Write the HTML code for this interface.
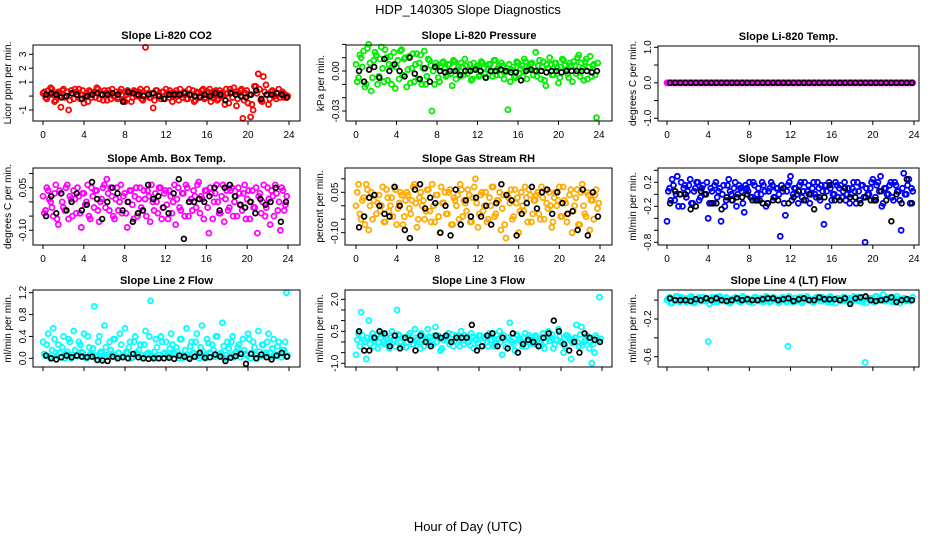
<!DOCTYPE html>
<html><head><meta charset="utf-8"><style>
body{margin:0;background:#fff}
svg{display:block;font-family:"Liberation Sans",sans-serif}
</style></head><body>
<svg id="chart" width="936" height="540">
<text x="468" y="14" text-anchor="middle" font-size="13">HDP_140305  Slope Diagnostics</text>
<text x="468" y="531" text-anchor="middle" font-size="13">Hour of Day (UTC)</text>
</svg>
<script>
const xTicks=[0,4,8,12,16,20,24];
const co2Col=[0.2,-0.1,0.4,0.6,0.1,-0.3,0.3,-0.8,0.5,0.0,-1.0,0.4,-0.2,0.3,0.5,0.1,-0.5,0.2,0.4,-0.1,0.3,0.6,-0.2,0.1,0.4,-0.3,0.2,0.5,0.0,-0.2,0.3,0.1,-0.4,0.4,0.2,-0.1,0.3,0.0,0.5,-0.3,3.5,0.2,-0.1,-0.85,0.4,0.1,-0.2,0.3,0.5,-0.1,0.2,0.0,0.4,-0.3,0.1,0.3,-0.2,0.5,0.1,-0.4,0.3,0.0,0.4,-0.2,0.2,0.5,-0.1,0.3,-0.3,0.4,0.1,-0.6,0.2,0.5,-0.1,0.3,-0.2,0.4,-1.6,0.2,-0.5,-1.5,-1.0,0.7,1.6,-0.3,1.4,0.8,-0.6,0.3,0.1,-0.2,0.5,0.2,-0.1,-0.1];
const co2Col2=[0.3,-0.2,0.1,0.5,-0.4,0.2,0.0,0.4,-0.1,0.3,-0.3,0.2,0.5,0.1,-0.2,0.4,0.0,-0.4,0.3,0.2,-0.1,0.5,0.1,-0.3,0.2,0.4,-0.2,0.0,0.3,-0.1,0.5,-0.3,0.1,0.2,-0.4,0.4,0.0,0.3,-0.2,0.1,0.5,-0.1,0.2,-0.3,0.4,0.0,0.3,-0.2,0.1,0.4,-0.4,0.2,0.0,0.5,-0.1,0.3,-0.2,0.1,0.4,-0.3,0.2,0.0,0.5,-0.1,0.3,-0.4,0.1,0.4,-0.2,0.2,0.0,0.5,-0.5,0.3,0.6,-0.7,0.2,0.5,-0.3,0.4,0.1,-0.6,0.7,0.2,0.5,-0.4,0.3,0.1,-0.2,0.4,0.0,0.2,-0.1,0.3,0.1,0.0];
const co2Blk=[0.1,0.2,0.1,-0.1,0.0,0.2,0.1,-0.2,0.0,0.1,0.2,0.1,0.1,0.2,0.1,-0.4,0.3,0.2,0.1,0.0,0.1,0.2,0.0,-0.2,0.1,0.1,0.1,0.2,0.1,0.0,-0.1,0.1,0.0,0.2,0.1,-0.3,0.2,0.1,0.0,-0.1,0.1,0.4,-0.2,0.1,0.1,0.2,0.1,-0.1];
const presCol=[0.005,-0.005,0.01,0.015,-0.01,0.02,-0.015,0.008,0.012,-0.004,0.018,-0.008,0.01,0.005,-0.01,0.014,0.003,-0.006,0.016,0.009,-0.012,0.011,0.002,-0.008,0.013,0.006,-0.01,0.015,-0.004,0.008,-0.03,-0.01,0.004,-0.008,0.006,0.002,-0.003,0.005,-0.011,0.007,0.001,-0.004,0.003,0.009,-0.002,0.005,-0.006,0.002,0.004,-0.003,0.006,-0.002,0.001,0.005,-0.004,0.008,0.002,-0.003,0.004,-0.001,-0.029,-0.008,0.003,-0.005,0.006,0.002,-0.004,0.007,0.001,0.005,-0.003,0.014,0.004,-0.006,0.007,-0.011,0.002,0.005,-0.003,0.006,-0.009,0.003,0.008,0.001,-0.005,0.004,0.007,-0.002,0.012,0.006,-0.007,0.009,0.003,-0.004,0.005,-0.035];
const presCol2=[-0.008,0.012,0.003,-0.012,0.017,0.006,-0.005,0.014,-0.01,0.009,0.002,0.016,-0.007,0.011,0.004,-0.013,0.008,0.015,-0.003,0.01,0.001,-0.009,0.013,0.005,-0.006,0.012,0.002,-0.01,0.009,0.004,0.0,0.006,-0.005,0.003,0.007,-0.004,0.005,-0.002,0.008,-0.006,0.003,0.006,-0.003,0.004,0.001,-0.007,0.006,0.003,-0.004,0.007,0.002,-0.005,0.005,0.0,0.008,-0.003,0.004,0.006,-0.006,0.002,0.005,0.001,-0.004,0.007,-0.002,0.004,0.009,-0.006,0.003,0.006,0.0,-0.004,0.008,0.003,-0.007,0.005,0.01,-0.003,0.006,0.002,-0.005,0.009,0.004,-0.002,0.006,-0.008,0.004,0.01,-0.004,0.002,0.007,-0.006,0.011,0.004,-0.003,0.006];
const presBlk=[0.0,-0.008,0.001,0.003,-0.005,0.009,0.0,0.005,0.0,-0.004,0.01,-0.002,-0.006,0.002,-0.008,0.003,0.0,-0.001,0.0,0.0,-0.003,0.0,0.0,0.001,0.0,-0.005,0.0,0.0,0.001,0.0,-0.001,-0.001,-0.007,0.0,0.001,0.0,0.0,-0.001,0.0,0.0,-0.001,0.0,0.0,0.0,0.0,0.0,-0.001,0.0];
const tempCol=[0,0,0,0,0,0,0,0,0,0,0,0,0,0,0,0,0,0,0,0,0,0,0,0,0,0,0,0,0,0,0,0,0,0,0,0,0,0,0,0,0,0,0,0,0,0,0,0,0,0,0,0,0,0,0,0,0,0,0,0,0,0,0,0,0,0,0,0,0,0,0,0,0,0,0,0,0,0,0,0,0,0,0,0,0,0,0,0,0,0,0,0,0,0,0,0];
const tempCol2=[0,0,0,0,0,0,0,0,0,0,0,0,0,0,0,0,0,0,0,0,0,0,0,0,0,0,0,0,0,0,0,0,0,0,0,0,0,0,0,0,0,0,0,0,0,0,0,0,0,0,0,0,0,0,0,0,0,0,0,0,0,0,0,0,0,0,0,0,0,0,0,0,0,0,0,0,0,0,0,0,0,0,0,0,0,0,0,0,0,0,0,0,0,0,0,0];
const tempBlk=[0,0,0,0,0,0,0,0,0,0,0,0,0,0,0,0,0,0,0,0,0,0,0,0,0,0,0,0,0,0,0,0,0,0,0,0,0,0,0,0,0,0,0,0,0,0,0,0];
const boxCol=[0.02,-0.03,0.04,0.0,-0.05,0.06,-0.08,0.03,-0.02,0.05,-0.06,0.01,0.04,-0.04,0.02,-0.09,0.03,0.0,-0.05,0.05,-0.02,0.04,-0.07,0.01,0.06,0.08,-0.03,0.02,-0.06,0.05,0.0,-0.04,0.03,-0.09,0.04,-0.01,0.02,-0.05,0.05,-0.03,0.01,0.04,-0.07,0.0,0.03,-0.04,0.05,-0.02,0.04,-0.06,0.02,0.0,-0.08,0.05,-0.03,0.03,0.06,-0.05,0.01,0.04,-0.02,0.07,0.02,-0.06,0.04,-0.11,0.03,0.0,0.06,-0.04,0.02,-0.07,0.04,-0.02,0.05,0.0,-0.05,0.03,-0.03,0.06,0.01,-0.06,0.04,-0.02,-0.11,0.03,0.0,-0.05,0.05,-0.08,0.02,0.06,-0.03,-0.10,0.04,-0.01];
const boxCol2=[-0.04,0.05,0.01,-0.02,0.03,-0.06,0.04,0.0,-0.03,0.06,0.02,-0.05,0.01,0.05,-0.04,0.03,-0.01,0.06,-0.06,0.02,0.04,-0.03,0.0,0.05,-0.02,0.03,0.05,-0.05,0.01,-0.03,0.06,0.02,-0.04,0.0,0.04,-0.06,0.05,0.01,-0.02,0.04,-0.05,0.02,0.06,-0.03,0.0,0.05,-0.06,0.03,-0.01,0.04,-0.04,0.06,0.01,-0.02,0.03,-0.05,0.05,0.0,-0.03,0.02,0.06,-0.04,0.01,0.04,-0.02,0.05,-0.06,0.03,0.0,-0.04,0.06,0.01,-0.03,0.04,-0.05,0.02,0.05,-0.01,0.03,-0.06,0.04,0.0,-0.02,0.05,0.02,-0.04,0.06,-0.02,0.01,0.04,-0.05,0.03,0.0,0.05,-0.03,0.02];
const boxBlk=[-0.05,0.02,-0.04,0.03,-0.03,0.0,0.03,-0.03,-0.01,0.07,0.01,-0.06,0.0,0.05,0.03,-0.03,0.0,-0.07,-0.04,-0.03,0.06,0.01,0.02,-0.02,-0.04,0.03,0.08,-0.13,0.0,0.0,0.01,0.0,0.02,0.05,-0.03,0.05,0.06,0.02,-0.01,-0.02,0.0,-0.04,0.01,-0.01,0.0,0.05,-0.07,0.0];
const rhCol=[0.0,0.08,-0.05,0.03,0.08,-0.09,0.05,0.02,-0.03,0.04,0.0,-0.06,0.06,-0.02,0.03,0.07,-0.07,0.01,0.04,-0.04,0.05,-0.01,0.02,0.08,-0.08,0.03,0.0,-0.05,0.06,-0.02,0.08,-0.06,0.04,-0.1,0.01,0.05,-0.03,0.06,-0.07,0.02,0.04,0.08,-0.04,0.01,0.06,-0.06,0.03,0.1,-0.08,0.04,-0.02,0.05,-0.05,0.0,0.07,-0.03,0.02,-0.09,0.04,-0.12,0.03,0.06,-0.04,0.01,-0.1,0.05,-0.02,0.03,0.06,-0.06,0.02,0.04,-0.03,0.07,-0.05,0.01,0.05,-0.08,0.03,0.0,0.07,-0.04,0.02,-0.06,0.04,-0.1,0.0,0.06,-0.07,0.08,-0.03,0.05,-0.09,0.02,0.04,-0.01];
const rhCol2=[0.05,-0.03,0.02,-0.07,0.06,0.0,-0.05,0.04,0.01,-0.02,0.07,-0.06,0.03,0.0,-0.04,0.06,-0.01,0.05,-0.07,0.02,0.04,-0.03,0.07,0.01,-0.05,0.05,0.02,-0.02,0.06,-0.06,0.0,0.04,-0.04,0.07,0.01,-0.03,0.05,-0.07,0.03,0.0,-0.05,0.06,0.02,-0.02,0.04,-0.06,0.07,0.01,-0.03,0.05,0.0,-0.06,0.03,0.07,-0.04,0.02,0.05,-0.01,-0.07,0.04,0.01,-0.05,0.06,0.03,-0.02,0.0,0.07,-0.06,0.04,-0.03,0.02,0.05,-0.05,0.03,0.06,-0.01,0.0,-0.06,0.05,0.02,-0.04,0.07,0.01,-0.03,0.06,-0.02,0.03,-0.07,0.05,0.0,-0.04,0.04,0.02,-0.05,0.06,0.01];
const rhBlk=[-0.08,-0.04,0.03,0.04,0.0,-0.03,-0.04,0.07,0.0,-0.09,-0.12,0.06,0.08,-0.01,0.03,0.01,-0.1,0.0,-0.11,0.06,-0.07,0.02,-0.04,0.03,-0.04,0.0,-0.07,0.01,0.08,0.04,0.02,-0.11,-0.03,0.01,0.07,-0.01,0.05,0.06,-0.03,0.05,0.01,-0.03,-0.02,-0.09,0.06,-0.11,0.05,-0.04];
const sfCol=[-0.45,0.1,0.25,-0.1,0.3,0.0,-0.2,0.15,0.05,0.25,-0.15,0.1,0.2,-0.05,0.15,0.0,-0.4,0.1,-0.15,0.2,0.05,-0.45,0.15,-0.1,0.25,0.0,0.1,-0.2,0.15,0.05,-0.3,0.1,0.2,-0.05,0.15,0.0,-0.1,0.2,0.05,-0.15,0.1,0.15,-0.05,0.1,-0.7,0.05,-0.35,0.15,0.3,0.0,0.1,-0.15,0.2,0.05,-0.1,0.15,0.0,0.2,-0.05,0.1,0.15,-0.5,0.05,0.2,-0.1,0.0,0.15,0.1,-0.05,0.2,0.0,-0.15,0.1,0.05,0.2,-0.1,0.15,-0.8,0.0,0.1,0.25,-0.05,0.2,0.3,-0.15,0.1,0.0,0.2,-0.1,0.15,0.05,-0.6,0.35,0.0,0.25,0.1];
const sfCol2=[0.05,-0.1,0.15,0.0,-0.2,0.2,0.1,-0.05,0.15,-0.15,0.05,0.2,-0.1,0.1,0.0,0.2,-0.15,0.05,0.15,-0.05,0.1,0.0,-0.2,0.15,0.05,-0.1,0.2,0.0,0.1,-0.15,0.15,0.05,-0.05,0.2,-0.1,0.1,0.0,0.15,-0.2,0.05,0.2,-0.05,0.1,0.0,0.15,-0.15,0.05,0.2,-0.1,0.1,0.0,0.15,-0.05,0.2,0.05,-0.15,0.1,0.0,0.2,-0.1,0.05,0.15,-0.2,0.1,0.0,0.2,-0.05,0.15,0.05,-0.1,0.1,0.0,0.2,-0.15,0.05,0.15,-0.05,0.1,0.0,0.2,-0.1,0.15,0.05,-0.2,0.1,0.0,0.15,-0.05,0.2,0.05,-0.1,0.1,0.0,0.15,-0.15,0.05];
const sfBlk=[-0.15,0.05,0.0,0.0,-0.25,-0.2,0.05,0.0,-0.15,-0.15,-0.25,-0.05,-0.1,-0.05,-0.05,0.0,-0.1,-0.1,-0.15,-0.15,-0.1,-0.1,0.1,-0.15,-0.05,0.05,-0.1,0.0,-0.25,-0.05,-0.05,0.15,-0.1,-0.1,0.1,-0.05,-0.05,-0.15,-0.05,-0.1,-0.1,0.05,-0.1,-0.45,0.0,-0.15,0.25,-0.15];
const l2Col=[0.3,0.05,0.45,0.0,0.55,0.1,0.25,0.02,0.4,0.08,0.35,0.0,0.5,0.05,0.3,0.12,0.45,0.0,0.2,0.06,0.95,0.02,0.4,0.1,0.6,0.03,0.3,0.08,0.35,0.0,0.45,0.05,0.55,0.1,0.3,0.02,0.4,0.07,0.25,0.0,0.5,0.1,1.05,0.04,0.35,0.0,0.4,0.08,0.3,0.05,0.45,0.1,0.2,0.0,0.35,0.06,0.55,0.02,0.3,0.09,0.45,0.0,0.6,0.05,0.35,0.1,0.25,0.03,0.4,0.07,0.65,0.0,0.3,0.05,0.4,0.1,0.2,0.02,0.35,0.08,0.45,0.0,0.3,0.06,0.5,0.04,0.25,0.1,0.45,0.03,0.35,0.07,0.3,0.02,0.15,1.2];
const l2Col2=[0.08,0.25,0.03,0.15,0.35,0.05,0.1,0.2,0.0,0.12,0.3,0.06,0.15,0.04,0.25,0.1,0.02,0.4,0.08,0.18,0.05,0.3,0.12,0.0,0.2,0.07,0.15,0.35,0.03,0.1,0.25,0.06,0.12,0.2,0.0,0.3,0.1,0.15,0.05,0.25,0.08,0.4,0.02,0.12,0.2,0.06,0.3,0.1,0.04,0.18,0.25,0.08,0.12,0.35,0.0,0.15,0.07,0.22,0.1,0.3,0.05,0.2,0.12,0.0,0.28,0.09,0.15,0.4,0.04,0.1,0.22,0.06,0.18,0.3,0.02,0.12,0.25,0.08,0.15,0.05,0.35,0.1,0.2,0.0,0.12,0.25,0.06,0.3,0.1,0.18,0.04,0.22,0.08,0.15,0.3,0.05];
const l2Blk=[0.05,0.0,-0.02,0.02,0.05,0.02,0.05,0.03,0.02,0.03,-0.03,-0.04,-0.05,0.03,0.0,0.02,0.0,0.08,0.02,0.0,-0.01,0.0,0.0,0.0,0.01,-0.01,0.05,0.03,-0.01,0.03,0.1,0.01,0.02,0.07,0.03,-0.05,0.01,0.04,0.08,-0.1,0.08,0.0,0.07,0.02,-0.02,0.05,0.1,0.03];
const l3Col=[-0.6,0.4,1.4,0.1,-0.8,1.0,0.2,-0.2,0.3,0.0,0.4,-0.1,0.2,-0.3,0.5,0.1,1.5,0.3,-0.2,0.2,0.0,0.4,-0.1,0.6,0.1,-0.3,0.3,0.0,0.6,0.2,-0.1,0.7,0.3,-0.4,0.1,0.2,0.4,0.0,-0.2,0.3,0.1,0.5,-0.1,0.2,0.0,0.4,-0.3,0.1,0.3,-0.2,0.2,0.0,0.4,0.1,-0.2,0.3,0.5,-0.6,0.1,0.2,0.9,0.0,-0.4,0.3,0.1,-0.2,0.4,0.0,0.2,-0.1,0.3,0.1,-0.2,0.4,0.0,0.5,0.2,-0.3,0.1,0.6,0.0,-0.5,0.3,0.2,-0.8,0.1,0.8,-0.2,0.7,0.0,0.3,-0.3,-1.0,-0.5,0.2,2.1];
const l3Col2=[0.1,-0.2,0.3,0.0,0.2,-0.1,0.4,0.1,-0.3,0.2,0.0,0.3,-0.1,0.2,0.1,-0.2,0.35,0.0,0.15,-0.25,0.3,0.05,-0.1,0.2,0.0,0.4,-0.2,0.1,0.25,-0.1,0.3,0.0,0.15,-0.3,0.2,0.1,-0.1,0.35,0.05,0.2,-0.2,0.1,0.3,0.0,-0.15,0.25,0.1,-0.05,0.3,0.0,0.2,-0.2,0.1,0.4,-0.1,0.15,0.0,0.3,-0.25,0.2,0.05,-0.1,0.35,0.1,0.0,0.2,-0.2,0.3,0.1,-0.05,0.25,0.0,0.15,-0.3,0.2,0.05,0.35,-0.1,0.1,0.25,0.0,-0.2,0.3,0.1,-0.05,0.2,0.0,0.35,-0.15,0.1,0.25,0.0,-0.1,0.3,0.05,0.15];
const l3Blk=[0.5,-0.4,-0.4,0.2,0.5,0.4,-0.2,0.3,-0.3,0.2,0.1,-0.4,0.3,0.0,-0.2,0.3,0.2,0.3,0.0,0.2,0.2,0.2,0.8,-0.4,-0.2,0.3,0.4,-0.2,0.2,-0.3,0.4,-0.5,-0.1,0.1,0.0,-0.2,0.2,0.4,1.0,0.5,-0.1,-0.4,0.0,-0.5,0.4,0.2,0.1,0.0];
const l4Col=[0.0,0.03,-0.03,0.0,0.04,-0.02,0.01,0.02,-0.01,0.03,0.0,-0.02,0.02,0.0,0.03,-0.01,-0.44,0.01,-0.02,0.03,0.0,0.02,-0.01,0.03,0.0,-0.02,0.02,0.01,-0.01,0.03,0.0,0.02,-0.02,0.01,0.03,0.0,-0.01,0.02,0.0,0.03,-0.02,0.01,0.02,0.0,-0.01,0.03,0.0,-0.49,0.01,-0.02,0.02,0.0,0.03,-0.01,0.01,0.02,0.0,-0.02,0.03,0.01,-0.01,0.02,0.0,0.03,-0.02,0.01,0.02,0.0,-0.01,0.03,0.0,0.02,-0.01,0.01,0.03,0.0,-0.02,-0.66,0.01,0.02,-0.01,0.04,0.0,0.02,0.06,-0.01,0.02,0.0,0.03,-0.02,0.01,0.0,0.02,-0.01,0.01,0.0];
const l4Col2=[0.02,-0.03,0.01,0.04,-0.01,0.03,0.0,-0.02,0.02,0.04,-0.03,0.01,0.03,-0.01,0.0,0.02,-0.04,0.03,0.01,-0.02,0.04,0.0,-0.01,0.02,-0.03,0.01,0.03,0.0,-0.02,0.04,0.02,-0.01,0.01,-0.03,0.03,0.0,0.02,-0.02,0.04,0.01,-0.01,0.03,0.0,-0.03,0.02,0.01,-0.02,0.04,0.0,0.02,-0.01,0.03,-0.03,0.01,0.04,0.0,-0.02,0.02,0.01,-0.01,0.03,0.0,-0.02,0.04,0.01,-0.03,0.02,0.0,0.03,-0.01,0.01,-0.02,0.04,0.02,-0.01,0.0,0.03,-0.03,0.01,0.02,-0.02,0.04,0.0,0.01,-0.01,0.03,0.02,-0.02,0.0,0.04,-0.03,0.01,0.02,0.0,-0.01,0.03];
const l4Blk=[0.02,0.0,0.0,0.0,-0.01,0.01,0.0,0.02,0.0,0.02,0.0,-0.01,0.0,0.02,0.0,0.01,0.0,0.0,0.01,0.02,0.02,0.0,0.01,0.02,-0.01,0.01,0.02,0.0,0.0,0.03,0.01,0.01,0.01,0.0,0.02,-0.04,0.02,0.03,0.04,0.0,-0.01,0.0,0.01,0.03,-0.02,0.0,0.01,0.0];
const yTicks1=[-1,0,1,2,3], yLab1=["-1","","1","2","3"];
const yTicks2=[-0.03,-0.02,-0.01,0,0.01,0.02], yLab2=["-0.03","","","0.00","",""];
const yTicks3=[-1,-0.5,0,0.5,1], yLab3=["-1.0","","0.0","","1.0"];
const yTicks4=[-0.1,-0.05,0,0.05,0.1], yLab4=["-0.10","","","0.05",""];
const yTicks5=[-0.1,-0.05,0,0.05,0.1], yLab5=["-0.10","","","0.05",""];
const yTicks6=[-0.8,-0.6,-0.4,-0.2,0,0.2,0.4], yLab6=["-0.8","","","-0.2","","0.2",""];
const yTicks7=[0,0.4,0.8,1.2], yLab7=["0.0","0.4","0.8","1.2"];
const yTicks8=[-1,-0.5,0,0.5,1,1.5,2], yLab8=["-1.0","","","0.5","","","2.0"];
const yTicks9=[-0.6,-0.4,-0.2,0], yLab9=["-0.6","","-0.2",""];

const svg=document.getElementById('chart');
const NS='http://www.w3.org/2000/svg';
function mk(tag,attrs,parent){const e=document.createElementNS(NS,tag);for(const k in attrs)e.setAttribute(k,attrs[k]);(parent||svg).appendChild(e);return e;}

const panels=[
 {t:'Slope Li-820 CO2',yl:'Licor ppm per min.',bx:[33,300],by:[45,121],xr:[43,289],ya:[3,54.3],yb:[-1,110],col:'#ff0000',c:co2Col,c2:co2Col2,b:co2Blk,yt:yTicks1,ytl:yLab1,xl:true,name:'co2'},
 {t:'Slope Li-820 Pressure',yl:'kPa per min.',bx:[346,612],by:[45,121],xr:[356,599],ya:[0,71],yb:[-0.03,111],col:'#00ee00',c:presCol,c2:presCol2,b:presBlk,yt:yTicks2,ytl:yLab2,xl:true,name:'pressure'},
 {t:'Slope Li-820 Temp.',yl:'degrees C per min.',bx:[658,919],by:[46,121],xr:[667,914],ya:[1,47.3],yb:[-1,118.3],col:'#ff00ff',c:tempCol,c2:tempCol2,b:tempBlk,yt:yTicks3,ytl:yLab3,xl:true,name:'temp'},
 {t:'Slope Amb. Box Temp.',yl:'degrees C per min.',bx:[33,300],by:[168,245],xr:[43,288],ya:[0.05,187.7],yb:[-0.1,230.3],col:'#ff00ff',c:boxCol,c2:boxCol2,b:boxBlk,yt:yTicks4,ytl:yLab4,xl:true,name:'box-temp'},
 {t:'Slope Gas Stream RH',yl:'percent per min.',bx:[345,612],by:[168,245],xr:[356,600],ya:[0.05,192.3],yb:[-0.1,232.7],col:'#ffaa00',c:rhCol,c2:rhCol2,b:rhBlk,yt:yTicks5,ytl:yLab5,xl:true,name:'rh'},
 {t:'Slope Sample Flow',yl:'ml/min per min.',bx:[658,919],by:[168,245],xr:[667,914],ya:[0.2,182.3],yb:[-0.8,242.3],col:'#0000ff',c:sfCol,c2:sfCol2,b:sfBlk,yt:yTicks6,ytl:yLab6,xl:true,name:'sample-flow'},
 {t:'Slope Line 2 Flow',yl:'ml/min per min.',bx:[33,300],by:[290,367],xr:[43,289],ya:[1.2,292.7],yb:[0,358.3],col:'#00ffff',c:l2Col,c2:l2Col2,b:l2Blk,yt:yTicks7,ytl:yLab7,xl:false,name:'line2-flow'},
 {t:'Slope Line 3 Flow',yl:'ml/min per min.',bx:[345,612],by:[290,367],xr:[356,602],ya:[2,299.3],yb:[-1,363.3],col:'#00ffff',c:l3Col,c2:l3Col2,b:l3Blk,yt:yTicks8,ytl:yLab8,xl:false,name:'line3-flow'},
 {t:'Slope Line 4 (LT) Flow',yl:'ml/min per min.',bx:[658,919],by:[290,367],xr:[667,914],ya:[-0.2,319],yb:[-0.6,356.7],col:'#00ffff',c:l4Col,c2:l4Col2,b:l4Blk,yt:yTicks9,ytl:yLab9,xl:false,name:'line4-flow'}
];

panels.forEach(p=>{
 const g=mk('g',{});
 
 
 const xs=h=>p.xr[0]+(p.xr[1]-p.xr[0])*h/24;
 const ys=v=>p.ya[1]+(p.yb[1]-p.ya[1])*(v-p.ya[0])/(p.yb[0]-p.ya[0]);
 const cx=(p.bx[0]+p.bx[1])/2;
 const t=mk('text',{x:cx,y:p.by[0]-6,'text-anchor':'middle','font-size':'11','font-weight':'bold'},g);
 t.textContent=p.t;
 
 
 p.c.forEach((v,i)=>{
  const c=mk('circle',{cx:xs(i*0.25),cy:ys(v),r:2.5,fill:'none',stroke:p.col,'stroke-width':1.8},g);
  
  
 });
 p.c2.forEach((v,i)=>{
  const c=mk('circle',{cx:xs(i*0.25+0.125),cy:ys(v),r:2.5,fill:'none',stroke:p.col,'stroke-width':1.8},g);
  
  
 });
 p.b.forEach((v,i)=>{
  const c=mk('circle',{cx:xs(i*0.5+0.3),cy:ys(v),r:2.4,fill:'none',stroke:'#000','stroke-width':1.7},g);
  
  
 });
 const r=mk('rect',{x:p.bx[0],y:p.by[0],width:p.bx[1]-p.bx[0],height:p.by[1]-p.by[0],fill:'none',stroke:'#000','stroke-width':1},g);
 
 
 xTicks.forEach(h=>{
  const l=mk('line',{x1:xs(h),x2:xs(h),y1:p.by[1],y2:p.by[1]+4,stroke:'#000'},g);
  
  
  if(p.xl){
   const tt=mk('text',{x:xs(h),y:p.by[1]+17,'text-anchor':'middle','font-size':'10'},g);
   tt.textContent=h;
   
   
  }
 });
 p.yt.forEach((v,i)=>{
  const y=ys(v);
  const l=mk('line',{x1:p.bx[0]-4,x2:p.bx[0],y1:y,y2:y,stroke:'#000'},g);
  
  
  if(p.ytl[i]){
   const tx=p.bx[0]-7;
   const tt=mk('text',{x:tx,y:y,'text-anchor':'middle','font-size':'10',transform:'rotate(-90 '+tx+' '+y+')'},g);
   tt.textContent=p.ytl[i];
   
   
  }
 });
 const yx=p.bx[0]-22, yy=(p.by[0]+p.by[1])/2;
 const yl=mk('text',{x:yx,y:yy,'text-anchor':'middle','font-size':'10',transform:'rotate(-90 '+yx+' '+yy+')'},g);
 yl.textContent=p.yl;
 
 
});
</script>
</body></html>
